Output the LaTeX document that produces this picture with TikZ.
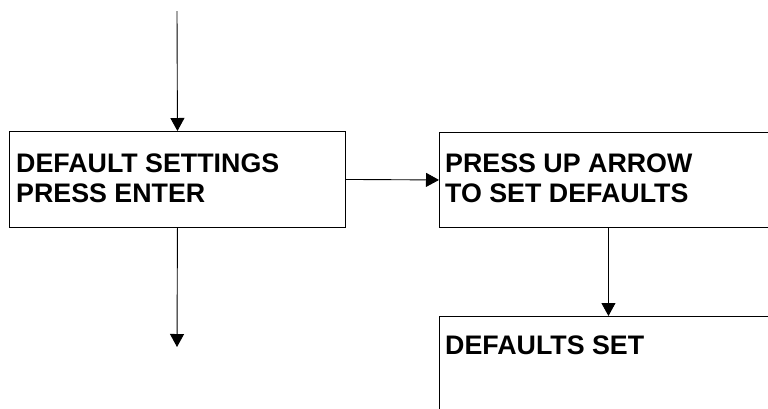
\documentclass[tikz,border=0pt]{standalone}
\usepackage{fontspec}
\setmainfont{Liberation Sans}
\usetikzlibrary{arrows.meta}
\begin{document}
\begin{tikzpicture}[x=1pt,y=-1pt,
  box/.style={draw=black, line width=0.9pt, rectangle, inner sep=0pt, anchor=north west},
  label/.style={anchor=north west, inner sep=0pt, align=left, font=\fontsize{26.8}{30}\selectfont\bfseries},
  conn/.style={draw=black, line width=0.9pt, -{Triangle[length=13pt,width=14pt]}}]
\useasboundingbox (0,0) rectangle (768,408);
\clip (0,0) rectangle (768,408);
\node[box, minimum width=336pt, minimum height=96pt] (b1) at (9,131) {};
\node[box, minimum width=338pt, minimum height=95pt] (b2) at (439,132) {};
\node[box, minimum width=338pt, minimum height=96pt] (b3) at (439,316) {};
\node[label] (t1) at (16,154) {DEFAULT SETTINGS\\PRESS ENTER};
\node[label] (t2) at (445,154) {PRESS UP ARROW\\TO SET DEFAULTS};
\node[label] (t3) at (445,336) {DEFAULTS SET};
\coordinate (top) at (177,11);
\coordinate (bot) at (177,347);
\draw[conn] (top) -- (b1.north);
\draw[conn] (b1.south) -- (bot);
\draw[conn] (b1.east) -- (b2.west);
\draw[conn] (b2.south) -- (b3.north);
\end{tikzpicture}
\end{document}
